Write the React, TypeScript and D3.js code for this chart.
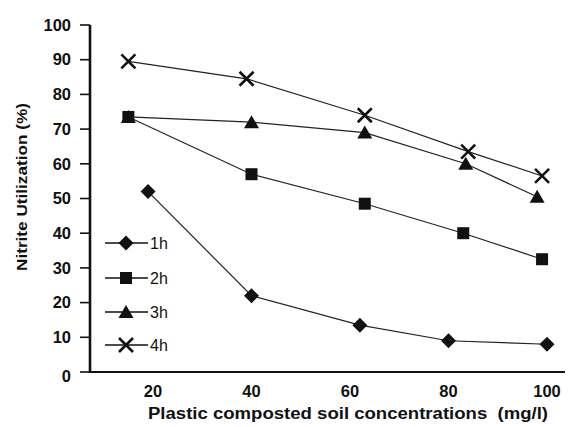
import React from 'react';
import * as d3 from 'd3';

// values
const seriesNames = ['1h', '2h', '3h', '4h'];
const conc1h = [19, 40, 62, 80, 100];
const util1h = [52, 22, 13.5, 9, 8];
const conc2h = [15, 40, 63, 83, 99];
const util2h = [73.5, 57, 48.5, 40, 32.5];
const conc3h = [15, 40, 63, 83.5, 98];
const util3h = [73.5, 72, 69, 60, 50.5];
const conc4h = [15, 39, 63, 84, 99];
const util4h = [89.5, 84.5, 74, 63.5, 56.5];
const xTicks = [20, 40, 60, 80, 100];
const yTicks = [0, 10, 20, 30, 40, 50, 60, 70, 80, 90, 100];

const W = 570;
const H = 427;
const font = '"Liberation Sans", Arial, sans-serif';
const ink = '#111';

type Pt = { x: number; y: number };

function Marker({ kind, cx, cy }: { kind: string; cx: number; cy: number }) {
  if (kind === '1h') {
    const r = 7.5;
    return <path d={`M${cx},${cy - r}L${cx + r},${cy}L${cx},${cy + r}L${cx - r},${cy}Z`} fill={ink} />;
  }
  if (kind === '2h') {
    return <rect x={cx - 6} y={cy - 6} width={12} height={12} fill={ink} />;
  }
  if (kind === '3h') {
    return <path d={`M${cx},${cy - 7}L${cx + 7.5},${cy + 6}L${cx - 7.5},${cy + 6}Z`} fill={ink} />;
  }
  const r = 7;
  return (
    <path
      d={`M${cx - r},${cy - r}L${cx + r},${cy + r}M${cx - r},${cy + r}L${cx + r},${cy - r}`}
      stroke={ink}
      strokeWidth={2.6}
      fill="none"
    />
  );
}

export default function App() {
  const x = d3.scaleLinear().domain([20, 100]).range([153, 547]);
  const y = d3.scaleLinear().domain([0, 100]).range([372, 25]);

  const all: Pt[][] = [
    conc1h.map((c, i) => ({ x: c, y: util1h[i] })),
    conc2h.map((c, i) => ({ x: c, y: util2h[i] })),
    conc3h.map((c, i) => ({ x: c, y: util3h[i] })),
    conc4h.map((c, i) => ({ x: c, y: util4h[i] })),
  ];

  const line = d3
    .line<Pt>()
    .x((d) => x(d.x))
    .y((d) => y(d.y));

  const axisX = 90;
  const legendY = [243, 278, 312, 345];

  return (
    <svg width={W} height={H} style={{ position: 'fixed', left: 0, top: 0, background: '#fff' }}>
      <rect width={W} height={H} fill="#fff" />

      {/* y axis */}
      <line x1={axisX} x2={axisX} y1={y(100)} y2={y(0) + 1} stroke={ink} strokeWidth={2.6} />
      {yTicks.map((t) => (
        <g key={t}>
          <line x1={axisX - 10} x2={axisX} y1={y(t)} y2={y(t)} stroke={ink} strokeWidth={1.6} />
          <text
            x={71}
            y={y(t) + (t === 0 ? 4 : 0)}
            dy="0.35em"
            textAnchor="end"
            fontFamily={font}
            fontWeight="bold"
            fontSize={16.5}
            fill={ink}
          >
            {t}
          </text>
        </g>
      ))}

      {/* x axis */}
      <line x1={axisX} x2={565} y1={y(0)} y2={y(0)} stroke={ink} strokeWidth={2} />
      {xTicks.map((t) => (
        <text
          key={t}
          x={x(t)}
          y={391}
          dy="0.35em"
          textAnchor="middle"
          fontFamily={font}
          fontWeight="bold"
          fontSize={16.5}
          fill={ink}
        >
          {t}
        </text>
      ))}

      <text
        x={348}
        y={413}
        dy="0.35em"
        textAnchor="middle"
        textLength={400}
        lengthAdjust="spacingAndGlyphs"
        fontFamily={font}
        fontWeight="bold"
        fontSize={16}
        fill={ink}
      >
        Plastic composted soil concentrations{'\u00a0\u00a0'}(mg/l)
      </text>
      <text
        transform="translate(22,187) rotate(-90)"
        dy="0.35em"
        textAnchor="middle"
        textLength={168}
        lengthAdjust="spacingAndGlyphs"
        fontFamily={font}
        fontWeight="bold"
        fontSize={15}
        fill={ink}
      >
        Nitrite Utilization (%)
      </text>

      {/* series */}
      {all.map((pts, i) => (
        <g key={seriesNames[i]}>
          <path d={line(pts) || ''} fill="none" stroke="#222" strokeWidth={1.2} />
          {pts.map((p, j) => (
            <Marker key={j} kind={seriesNames[i]} cx={x(p.x)} cy={y(p.y)} />
          ))}
        </g>
      ))}

      {/* legend */}
      {seriesNames.map((name, i) => (
        <g key={name}>
          <line x1={105} x2={148} y1={legendY[i]} y2={legendY[i]} stroke={ink} strokeWidth={1.6} />
          <Marker kind={name} cx={126} cy={legendY[i]} />
          <text
            x={150}
            y={legendY[i]}
            dy="0.35em"
            fontFamily={font}
            fontSize={16}
            fill={ink}
          >
            {name}
          </text>
        </g>
      ))}
    </svg>
  );
}
